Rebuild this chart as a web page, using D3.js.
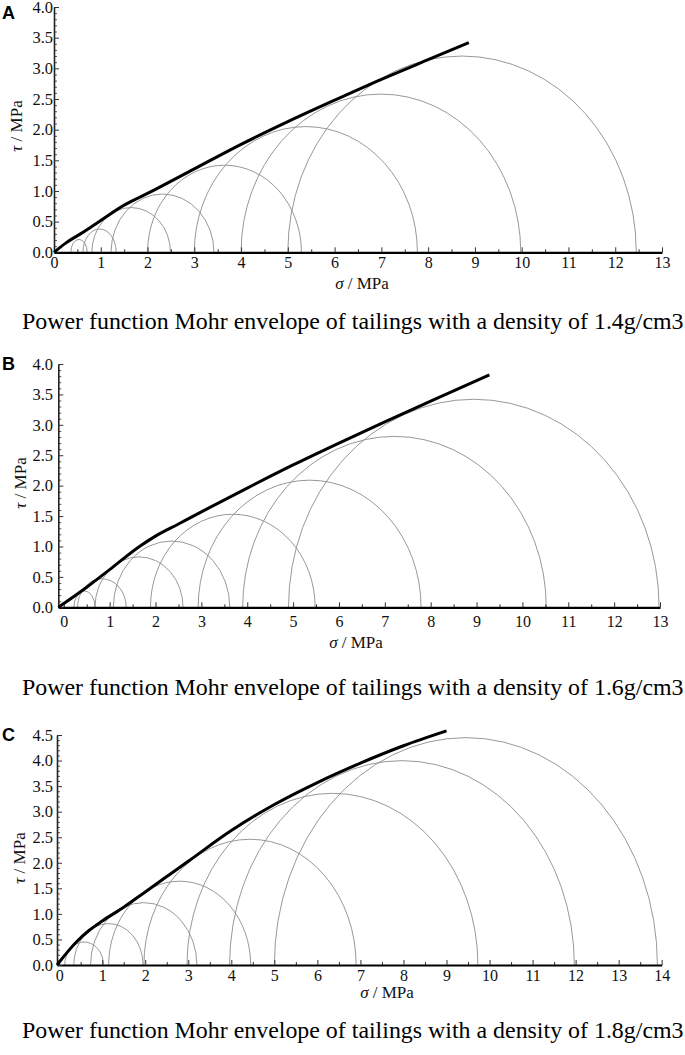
<!DOCTYPE html>
<html>
<head>
<meta charset="utf-8">
<script src="https://cdn.jsdelivr.net/npm/d3@7"></script>
<style>
  body { margin: 0; background: #fff; }
</style>
</head>
<body>
<div id="root"></div>
<script>
// ---- data ----
// Panel A : density 1.4 g/cm3
const circA_s3  = [0.36, 0.62, 0.81, 1.22, 2.0, 3.0, 4.0, 5.0]
const circA_s1  = [0.71, 1.33, 2.49, 3.42, 5.29, 7.77, 9.98, 12.45]
const circA_top = [0.21, 0.38, 0.73, 0.95, 1.42, 2.05, 2.58, 3.2]
const envA_sigma = [0, 0.25, 0.63, 1.0, 1.5, 2.0, 3.0, 4.0, 5.0, 6.0, 7.0, 8.0, 8.87]
const envA_tau   = [0, 0.15, 0.33, 0.52, 0.77, 0.96, 1.36, 1.76, 2.13, 2.48, 2.82, 3.14, 3.42]

// Panel B : density 1.6 g/cm3
const circB_s3  = [0.22, 0.3, 0.68, 1.08, 1.89, 2.93, 3.9, 4.9]
const circB_s1  = [0.68, 1.36, 2.6, 3.62, 5.48, 7.79, 10.52, 12.98]
const circB_top = [0.27, 0.47, 0.83, 1.09, 1.53, 2.09, 2.81, 3.42]
const envB_sigma = [-0.12, 0.5, 1.0, 1.65, 2.0, 2.5, 3.0, 4.0, 5.0, 6.0, 7.0, 8.0, 9.28]
const envB_tau   = [0, 0.33, 0.62, 1.0, 1.17, 1.37, 1.57, 1.96, 2.34, 2.7, 3.05, 3.39, 3.82]

// Panel C : density 1.8 g/cm3
const circC_s3  = [0.13, 0.34, 0.73, 1.15, 1.97, 2.97, 3.96, 5.0]
const circC_s1  = [1.03, 1.95, 3.2, 4.45, 6.9, 9.73, 11.97, 13.9]
const circC_top = [0.45, 0.81, 1.22, 1.64, 2.46, 3.36, 4.0, 4.45]
const envC_sigma = [-0.05, 0.4, 0.7, 1.0, 1.5, 2.0, 2.5, 3.0, 4.0, 5.0, 6.0, 7.0, 8.0, 9.0]
const envC_tau   = [0, 0.45, 0.68, 0.86, 1.13, 1.43, 1.73, 2.03, 2.63, 3.14, 3.57, 3.95, 4.29, 4.58]

const panelLetters = ["A", "B", "C"]
const captions = [
  "Power function Mohr envelope of tailings with a density of 1.4g/cm3",
  "Power function Mohr envelope of tailings with a density of 1.6g/cm3",
  "Power function Mohr envelope of tailings with a density of 1.8g/cm3",
]
const xMaxes = [13, 13, 14]
const yMaxes = [4, 4, 4.5]
const xMins = [0, -0.12, -0.05]

// ---- layout ----
const width = 685
const height = 1055
const SERIF = "'Liberation Serif', 'Times New Roman', serif"

const layout = [
  { x0: 54,   x1: 662,   y0: 252.3, y1: 7,   xPad: 4,   letterY: 19,  tauY: 126, sigX: 362, sigY: 289, capY: 329 },
  { x0: 58.3, x1: 660,   y0: 607.3, y1: 364, xPad: 8,   letterY: 370, tauY: 483, sigX: 356, sigY: 648, capY: 695 },
  { x0: 57,   x1: 661.7, y0: 965,   y1: 735, xPad: 4.5, letterY: 741, tauY: 858, sigX: 387, sigY: 998, capY: 1038 },
]

const panels = [
  { s3: circA_s3, s1: circA_s1, top: circA_top, es: envA_sigma, et: envA_tau },
  { s3: circB_s3, s1: circB_s1, top: circB_top, es: envB_sigma, et: envB_tau },
  { s3: circC_s3, s1: circC_s1, top: circC_top, es: envC_sigma, et: envC_tau },
]

const svg = d3.select("#root").append("svg")
  .attr("width", width)
  .attr("height", height)

svg.append("rect").attr("width", width).attr("height", height).attr("fill", "#fff")

panels.forEach((p, i) => {
  const L = layout[i]
  const g = svg.append("g")

  const xScale = d3.scaleLinear().domain([xMins[i], xMaxes[i]]).range([L.x0, L.x1])
  const yScale = d3.scaleLinear().domain([0, yMaxes[i]]).range([L.y0, L.y1])

  // Mohr circles (upper halves)
  const circles = p.s3.map((s, k) => ({ s3: s, s1: p.s1[k], top: p.top[k] }))
  g.append("g").selectAll("path")
    .data(circles)
    .join("path")
    .attr("d", d => {
      const xa = xScale(d.s3), xb = xScale(d.s1), yb = yScale(0)
      const rx = (xb - xa) / 2
      const ry = yb - yScale(d.top)
      return `M${xa},${yb} A${rx},${ry} 0 0 1 ${xb},${yb}`
    })
    .attr("fill", "none")
    .attr("stroke", "#8c8c8c")
    .attr("stroke-width", 0.9)

  // x axis
  const xMajor = d3.range(0, xMaxes[i] + 0.001, 1)
  const xMinor = d3.range(0.5, xMaxes[i], 1)
  g.append("g")
    .attr("transform", `translate(0,${L.y0})`)
    .call(d3.axisBottom(xScale).tickValues(xMinor).tickSize(-3).tickSizeOuter(0).tickFormat(""))
    .call(a => a.select(".domain").remove())
    .call(a => a.selectAll("line").attr("stroke", "#333"))
  const xAxis = g.append("g")
    .attr("transform", `translate(0,${L.y0})`)
    .call(d3.axisBottom(xScale).tickValues(xMajor).tickSize(-5).tickSizeOuter(0)
      .tickPadding(L.xPad).tickFormat(d3.format("d")))
  xAxis.select(".domain").attr("stroke", "#000").attr("stroke-width", 2.2)
  xAxis.selectAll("line").attr("stroke", "#333")
  xAxis.selectAll("text").style("font-family", SERIF).style("font-size", "16px").attr("fill", "#111")

  // y axis
  const yMajor = d3.range(0, yMaxes[i] + 0.001, 0.5)
  const yMinor = d3.range(0, yMaxes[i] + 0.001, 0.1).filter(v => Math.abs(v * 2 - Math.round(v * 2)) > 0.01)
  g.append("g")
    .attr("transform", `translate(${L.x0},0)`)
    .call(d3.axisLeft(yScale).tickValues(yMinor).tickSize(-3).tickSizeOuter(0).tickFormat(""))
    .call(a => a.select(".domain").remove())
    .call(a => a.selectAll("line").attr("stroke", "#555"))
  const yAxis = g.append("g")
    .attr("transform", `translate(${L.x0},0)`)
    .call(d3.axisLeft(yScale).tickValues(yMajor).tickSize(-5).tickSizeOuter(0)
      .tickPadding(L.x0 - 53).tickFormat(d3.format(".1f")))
  yAxis.select(".domain").attr("stroke", "#222").attr("stroke-width", 1.6)
  yAxis.selectAll("line").attr("stroke", "#333")
  yAxis.selectAll("text").style("font-family", SERIF).style("font-size", "16.5px").attr("fill", "#111")

  // power function envelope
  const env = p.es.map((s, k) => [s, p.et[k]])
  g.append("path")
    .datum(env)
    .attr("d", d3.line().x(d => xScale(d[0])).y(d => yScale(d[1])).curve(d3.curveMonotoneX))
    .attr("fill", "none")
    .attr("stroke", "#000")
    .attr("stroke-width", 3)

  // axis titles
  const tau = g.append("text")
    .attr("transform", `translate(${L.x0 - 32},${L.tauY}) rotate(-90)`)
    .attr("text-anchor", "middle")
    .style("font-family", SERIF)
    .style("font-size", "17px")
    .attr("fill", "#111")
  tau.append("tspan").attr("font-style", "italic").text("τ")
  tau.append("tspan").text(" / MPa")

  const sig = g.append("text")
    .attr("x", L.sigX)
    .attr("y", L.sigY)
    .attr("text-anchor", "middle")
    .style("font-family", SERIF)
    .style("font-size", "17px")
    .attr("fill", "#111")
  sig.append("tspan").attr("font-style", "italic").text("σ")
  sig.append("tspan").text(" / MPa")

  // panel letter
  g.append("text")
    .attr("x", 2)
    .attr("y", L.letterY)
    .style("font-family", "'Liberation Sans', Arial, sans-serif")
    .style("font-weight", "bold")
    .style("font-size", "18px")
    .attr("fill", "#000")
    .text(panelLetters[i])

  // caption, fitted to the page width
  const cap = g.append("text")
    .attr("x", 22)
    .attr("y", L.capY)
    .style("font-family", SERIF)
    .style("font-size", "21px")
    .attr("fill", "#000")
    .text(captions[i])
  const len = cap.node().getComputedTextLength()
  cap.style("font-size", (21 * 662 / len) + "px")
})
</script>
</body>
</html>
